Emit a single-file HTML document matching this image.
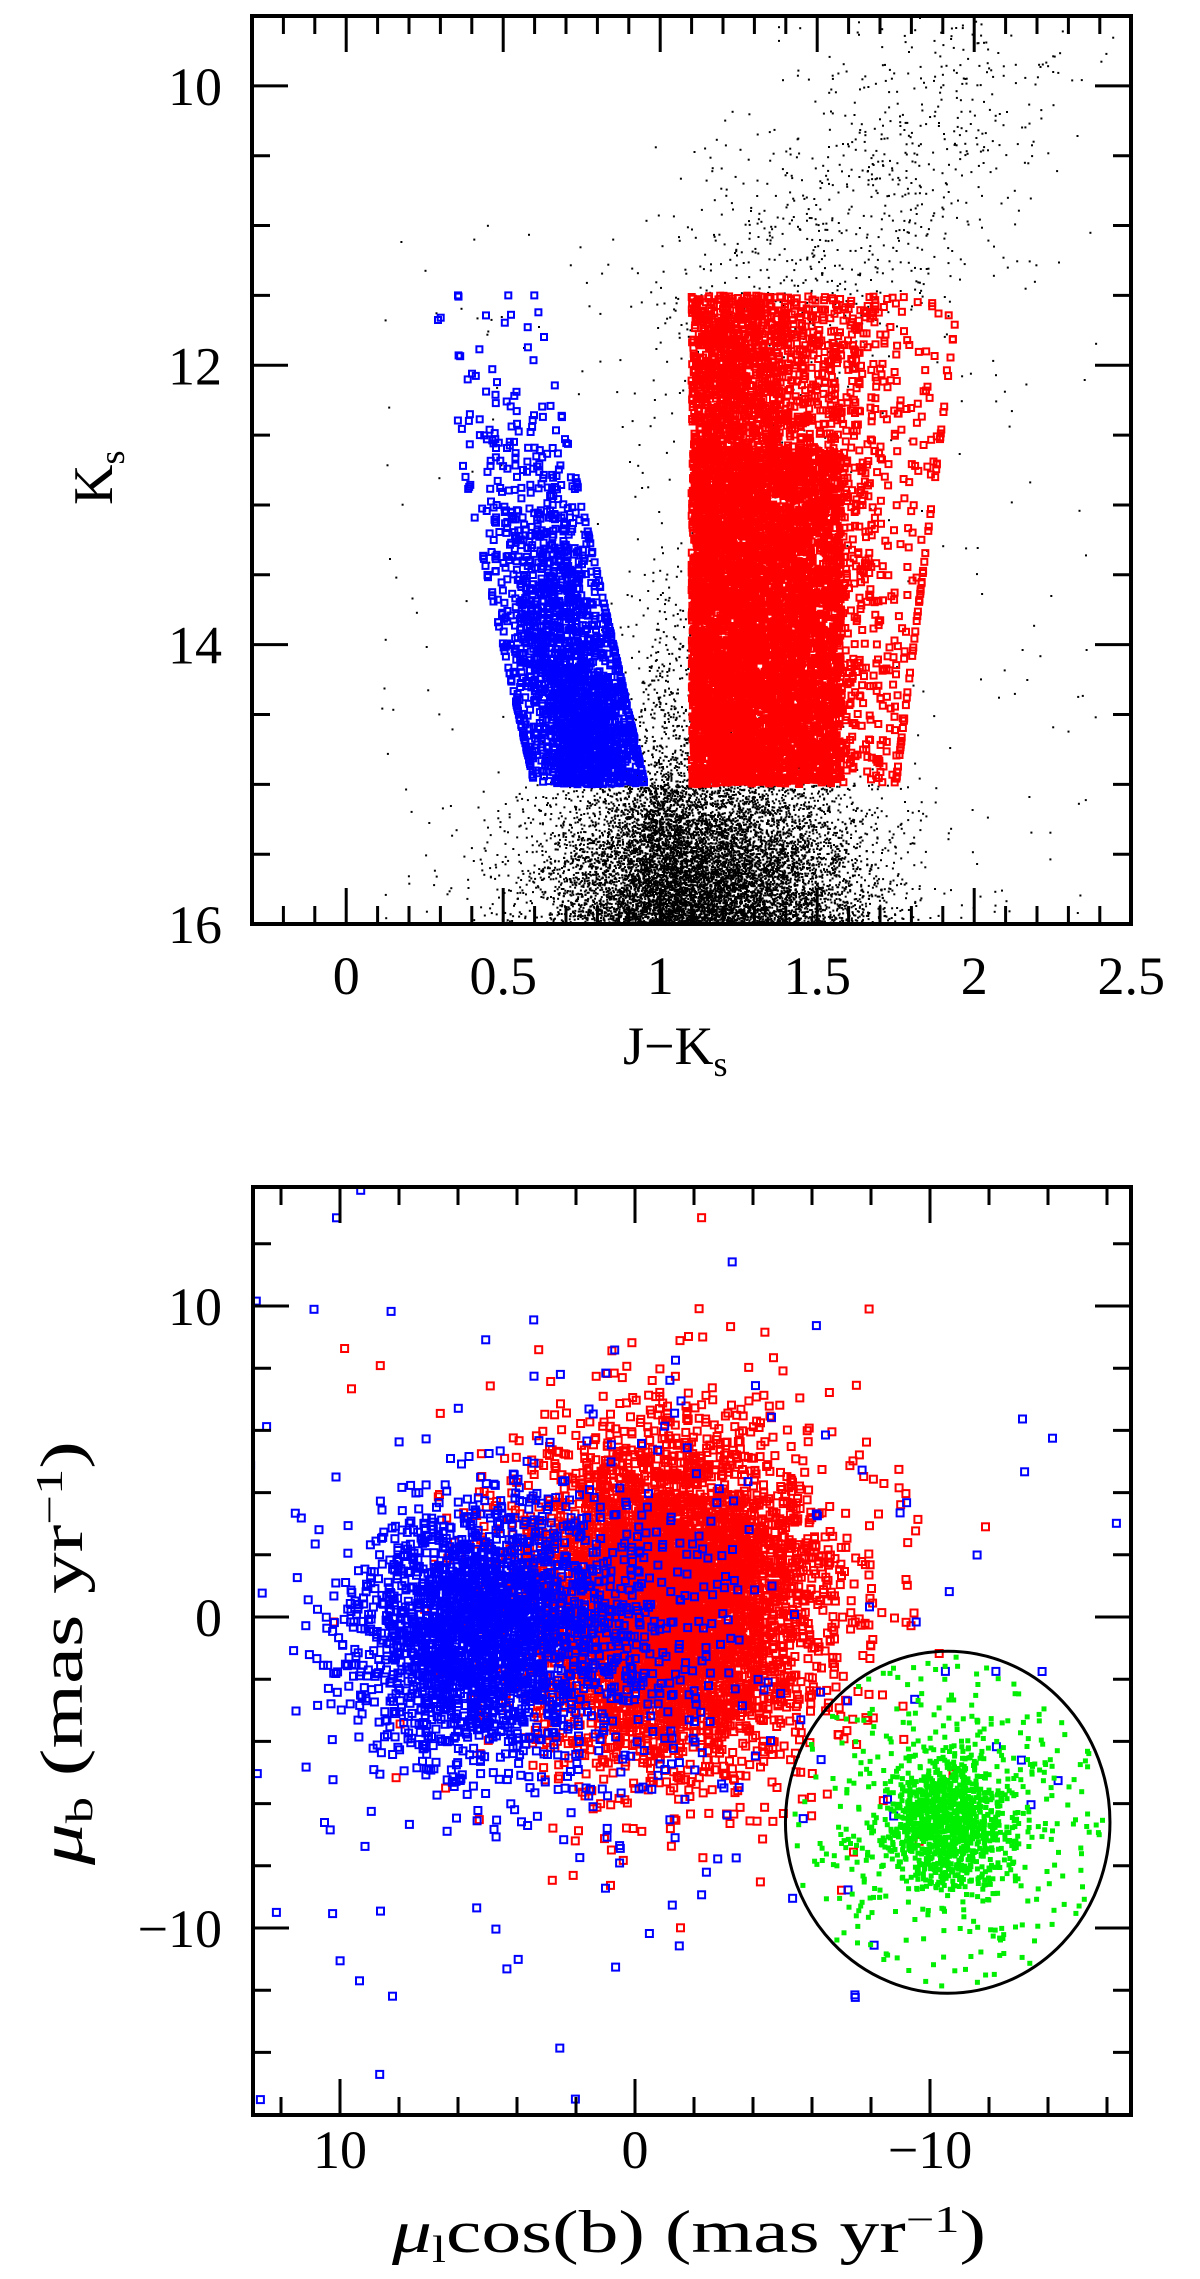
<!DOCTYPE html>
<html><head><meta charset="utf-8"><style>
html,body{margin:0;padding:0;background:#fff;}
svg{display:block;}
text{font-family:"Liberation Serif","DejaVu Serif",serif;fill:#000;}
</style></head><body>
<svg id="chart" xmlns="http://www.w3.org/2000/svg" width="1200" height="2279" viewBox="0 0 1200 2279">
<defs>
<clipPath id="clipTop"><rect x="252" y="16" width="879" height="908"/></clipPath>
<clipPath id="clipBot"><rect x="253" y="1187" width="878" height="928"/></clipPath>
</defs>
<g id="topPanel">
<g id="topPts" clip-path="url(#clipTop)"></g>
<g id="topAxes"></g>
<text x="623" y="1064" font-size="54">J−K<tspan font-size="36" dy="12">s</tspan></text>
<text transform="translate(112,505) rotate(-90)" font-size="56">K<tspan font-size="36" dy="12">s</tspan></text>
</g>
<g id="botPanel">
<g id="botPts" clip-path="url(#clipBot)"></g>
<g id="botAxes"></g>
<text x="392" y="2252" font-size="60" textLength="594" lengthAdjust="spacingAndGlyphs"><tspan font-style="italic">μ</tspan><tspan font-size="38" dy="10">l</tspan><tspan dy="-10">cos(b) (mas yr</tspan><tspan font-size="38" dy="-20">−1</tspan><tspan dy="20">)</tspan></text>
<text transform="translate(82,1865) rotate(-90)" font-size="60" textLength="424" lengthAdjust="spacingAndGlyphs"><tspan font-style="italic">μ</tspan><tspan font-size="38" dy="10">b</tspan><tspan dy="-10"> (mas yr</tspan><tspan font-size="38" dy="-20">−1</tspan><tspan dy="20">)</tspan></text>
</g>
</svg>
<script>
// ---- Data: top CMD panel ----
const topXTicks = [0, 0.5, 1, 1.5, 2, 2.5];
const topXTickLabels = ["0", "0.5", "1", "1.5", "2", "2.5"];
const topYTicks = [10, 12, 14, 16];
const topYTickLabels = ["10", "12", "14", "16"];
// populations: [meanColor, sdColor, meanK, sdK, count]
const fieldFaint = [1.15, 0.25, 16.0, 0.6, 10000];
const fieldGap = [1.02, 0.07, 15.0, 1.1, 1100];
const fieldGiantStart = [1.15, 11.8];
const fieldGiantEnd = [2.1, 9.9];
const fieldGiantCount = 900;
const fieldScatterCount = 250;
const blueBox = [11.5, 15.0, 0.25, 0.6, 0.1];   // Kmin, Kmax, loColor@Kmin, hiColor@Kmin, slope per mag
const blueCount = 2000;
const redBox = [11.5, 15.0, 1.1, 1.75, 1.95];  // Kmin, Kmax, loColor, hiColor(faint), hiColor(bright)
const redCount = 4500;
const redCoreCount = 3500;
// ---- Data: bottom proper-motion panel ----
const botXTicks = [10, 0, -10];
const botXTickLabels = ["10", "0", "−10"];
const botYTicks = [10, 0, -10];
const botYTickLabels = ["10", "0", "−10"];
const redPM = [-1.2, 0.5, 2.5, 2.6, 5000];
const redHalo = [-1.0, 0.0, 5.0, 4.5, 180];
const bluePM = [5.5, -0.4, 2.0, 1.9, 2000];
const blueMid = [1.5, -0.8, 2.5, 2.6, 500];
const blueHalo = [2.0, -1.0, 7.5, 6.5, 200];
const greenPM = [-10.6, -6.6, 1.1, 1.1, 1100];
const greenHaloCount = 320;
const circle = [-10.6, -6.6, 5.5];

// ---- axis functions ----
const X1 = v => 252 + (v + 0.3) * 314;
const Y1 = v => 16 + (v - 9.5) * 139.7;
const X2 = v => 635 - v * 29.5;
const Y2 = v => 1617 - v * 31.1;

const NS = "http://www.w3.org/2000/svg";
let seed = 12345;
function rnd(){seed|=0;seed=seed+0x6D2B79F5|0;let t=Math.imul(seed^seed>>>15,1|seed);t=t+Math.imul(t^t>>>7,61|t)^t;return((t^t>>>14)>>>0)/4294967296;}
function gauss(){let u=rnd()||1e-9,v=rnd();return Math.sqrt(-2*Math.log(u))*Math.cos(2*Math.PI*v);}

function mk(tag, attrs, parent){const e=document.createElementNS(NS,tag);for(const k in attrs)e.setAttribute(k,attrs[k]);parent.appendChild(e);return e;}

const topPts = document.getElementById('topPts');
const botPts = document.getElementById('botPts');
function dot(g, x, y, s, color, name, open){
  const r = document.createElementNS(NS,'rect');
  r.setAttribute('x',(x-s/2).toFixed(1));r.setAttribute('y',(y-s/2).toFixed(1));
  r.setAttribute('width',s);r.setAttribute('height',s);
  if(open){r.setAttribute('fill','none');r.setAttribute('stroke',color);r.setAttribute('stroke-width','2');}
  else r.setAttribute('fill',color);
  
  
  g.appendChild(r);
}

// ---- top: field stars ----
for(let i=0;i<fieldFaint[4];i++){
  const c=fieldFaint[0]+gauss()*fieldFaint[1];
  const k=fieldFaint[2]-Math.abs(gauss())*fieldFaint[3];
  if(k<15.0 && rnd()<0.7) continue;
  dot(topPts,X1(c),Y1(k),2,'#000','field-star');
}
for(let i=0;i<fieldGap[4];i++){
  const c=fieldGap[0]+gauss()*fieldGap[1];
  const k=fieldGap[2]+1-Math.abs(gauss())*fieldGap[3];
  dot(topPts,X1(c),Y1(k),2,'#000','field-star');
}
for(let i=0;i<fieldGiantCount;i++){
  const t=rnd();
  const c=fieldGiantStart[0]+(fieldGiantEnd[0]-fieldGiantStart[0])*t+gauss()*0.18;
  const k=fieldGiantStart[1]+(fieldGiantEnd[1]-fieldGiantStart[1])*t+gauss()*0.5;
  dot(topPts,X1(c),Y1(k),2,'#000','field-star');
}
for(let i=0;i<fieldScatterCount;i++){
  const c=0.1+rnd()*2.3, k=11+rnd()*5;
  dot(topPts,X1(c),Y1(k),2,'#000','field-star');
}
// ---- top: blue population ----
for(let i=0;i<blueCount;i++){
  const k=blueBox[1]-Math.min(Math.abs(gauss())*1.1,blueBox[1]-blueBox[0]);
  const lo=blueBox[2]+(k-blueBox[0])*blueBox[4], hi=blueBox[3]+(k-blueBox[0])*blueBox[4];
  let f=0.55+gauss()*0.28; f=Math.max(0,Math.min(1,f));
  const c=lo+(hi-lo)*f;
  dot(topPts,X1(c),Y1(k),6,'#0000ff','blue-star',true);
}
// ---- top: red population ----
for(let i=0;i<redCount;i++){
  const k=redBox[0]+rnd()*(redBox[1]-redBox[0]);
  const hi=redBox[4]+(redBox[3]-redBox[4])*(k-redBox[0])/(redBox[1]-redBox[0]);
  const c=redBox[2]+Math.min(Math.abs(gauss())*0.3,hi-redBox[2]);
  dot(topPts,X1(c),Y1(k),6,'#ff0000','red-star',true);
}
for(let i=0;i<redCoreCount;i++){
  const k=12.6+rnd()*2.4;
  const c=redBox[2]+rnd()*0.48;
  dot(topPts,X1(c),Y1(k),6,'#ff0000','red-star');
}
// ---- bottom: clouds ----
function cloud(p,color,name){
  for(let i=0;i<p[4];i++){
    const x=p[0]+gauss()*p[2], y=p[1]+gauss()*p[3];
    dot(botPts,X2(x),Y2(y),7,color,name,true);
  }
}
cloud(redPM,'#ff0000','red-pm-star');
cloud(redHalo,'#ff0000','red-pm-star');
cloud(bluePM,'#0000ff','blue-pm-star');
cloud(blueMid,'#0000ff','blue-pm-star');
cloud(blueHalo,'#0000ff','blue-pm-star');
for(let i=0;i<greenPM[4];i++){
  const x=greenPM[0]+gauss()*greenPM[2], y=greenPM[1]+gauss()*greenPM[3];
  if(Math.hypot(x-circle[0],y-circle[1])>circle[2]) continue;
  dot(botPts,X2(x),Y2(y),5,'#00ee00','green-pm-star');
}
for(let i=0;i<greenHaloCount;i++){
  const a=rnd()*2*Math.PI, r=circle[2]*Math.sqrt(rnd())*0.97;
  dot(botPts,X2(circle[0]+r*Math.cos(a)),Y2(circle[1]+r*Math.sin(a)),5,'#00ee00','green-pm-star');
}
const circ=mk('ellipse',{cx:X2(circle[0]),cy:Y2(circle[1]),rx:circle[2]*29.5,ry:circle[2]*31.1,fill:'none',stroke:'#000','stroke-width':3},botPts);



// ---- axes ----
function frame(g,x0,y0,x1,y1,name){
  const r=mk('rect',{x:x0,y:y0,width:x1-x0,height:y1-y0,fill:'none',stroke:'#000','stroke-width':4},g);
  
  
}
function tick(g,x1,y1,x2,y2,name){
  const l=mk('line',{x1:x1,y1:y1,x2:x2,y2:y2,stroke:'#000','stroke-width':3},g);
  
  
}
function label(g,x,y,txt,anchor,name){
  const t=mk('text',{x:x,y:y,'font-size':54,'text-anchor':anchor},g);
  t.textContent=txt;
  
  
}
const ta=document.getElementById('topAxes');
frame(ta,252,16,1131,924,'cmd-frame');
for(let i=-2;i<=25;i++){
  const v=i/10, x=X1(v), major=(i%5===0), L=major?36:18;
  tick(ta,x,924,x,924-L,'x-tick');
  tick(ta,x,16,x,16+L,'x-tick');
}
for(let i=0;i<=13;i++){
  const v=9.5+i*0.5, y=Y1(v), major=(Math.abs(v%2)<1e-9), L=major?36:18;
  tick(ta,252,y,252+L,y,'y-tick');
  tick(ta,1131,y,1131-L,y,'y-tick');
}
topXTicks.forEach((v,i)=>label(ta,X1(v),994,topXTickLabels[i],'middle','x-tick-label'));
topYTicks.forEach((v,i)=>label(ta,222,Y1(v)+19,topYTickLabels[i],'end','y-tick-label'));

const ba=document.getElementById('botAxes');
frame(ba,253,1187,1131,2115,'pm-frame');
for(let v=12;v>=-16;v-=2){
  const x=X2(v), major=(v%10===0), L=major?36:18;
  tick(ba,x,2115,x,2115-L,'x-tick');
  tick(ba,x,1187,x,1187+L,'x-tick');
}
for(let v=12;v>=-16;v-=2){
  const y=Y2(v), major=(v%10===0), L=major?36:18;
  tick(ba,253,y,253+L,y,'y-tick');
  tick(ba,1131,y,1131-L,y,'y-tick');
}
botXTicks.forEach((v,i)=>label(ba,X2(v),2168,botXTickLabels[i],'middle','x-tick-label'));
botYTicks.forEach((v,i)=>label(ba,222,Y2(v)+19,botYTickLabels[i],'end','y-tick-label'));
</script>
</body></html>
